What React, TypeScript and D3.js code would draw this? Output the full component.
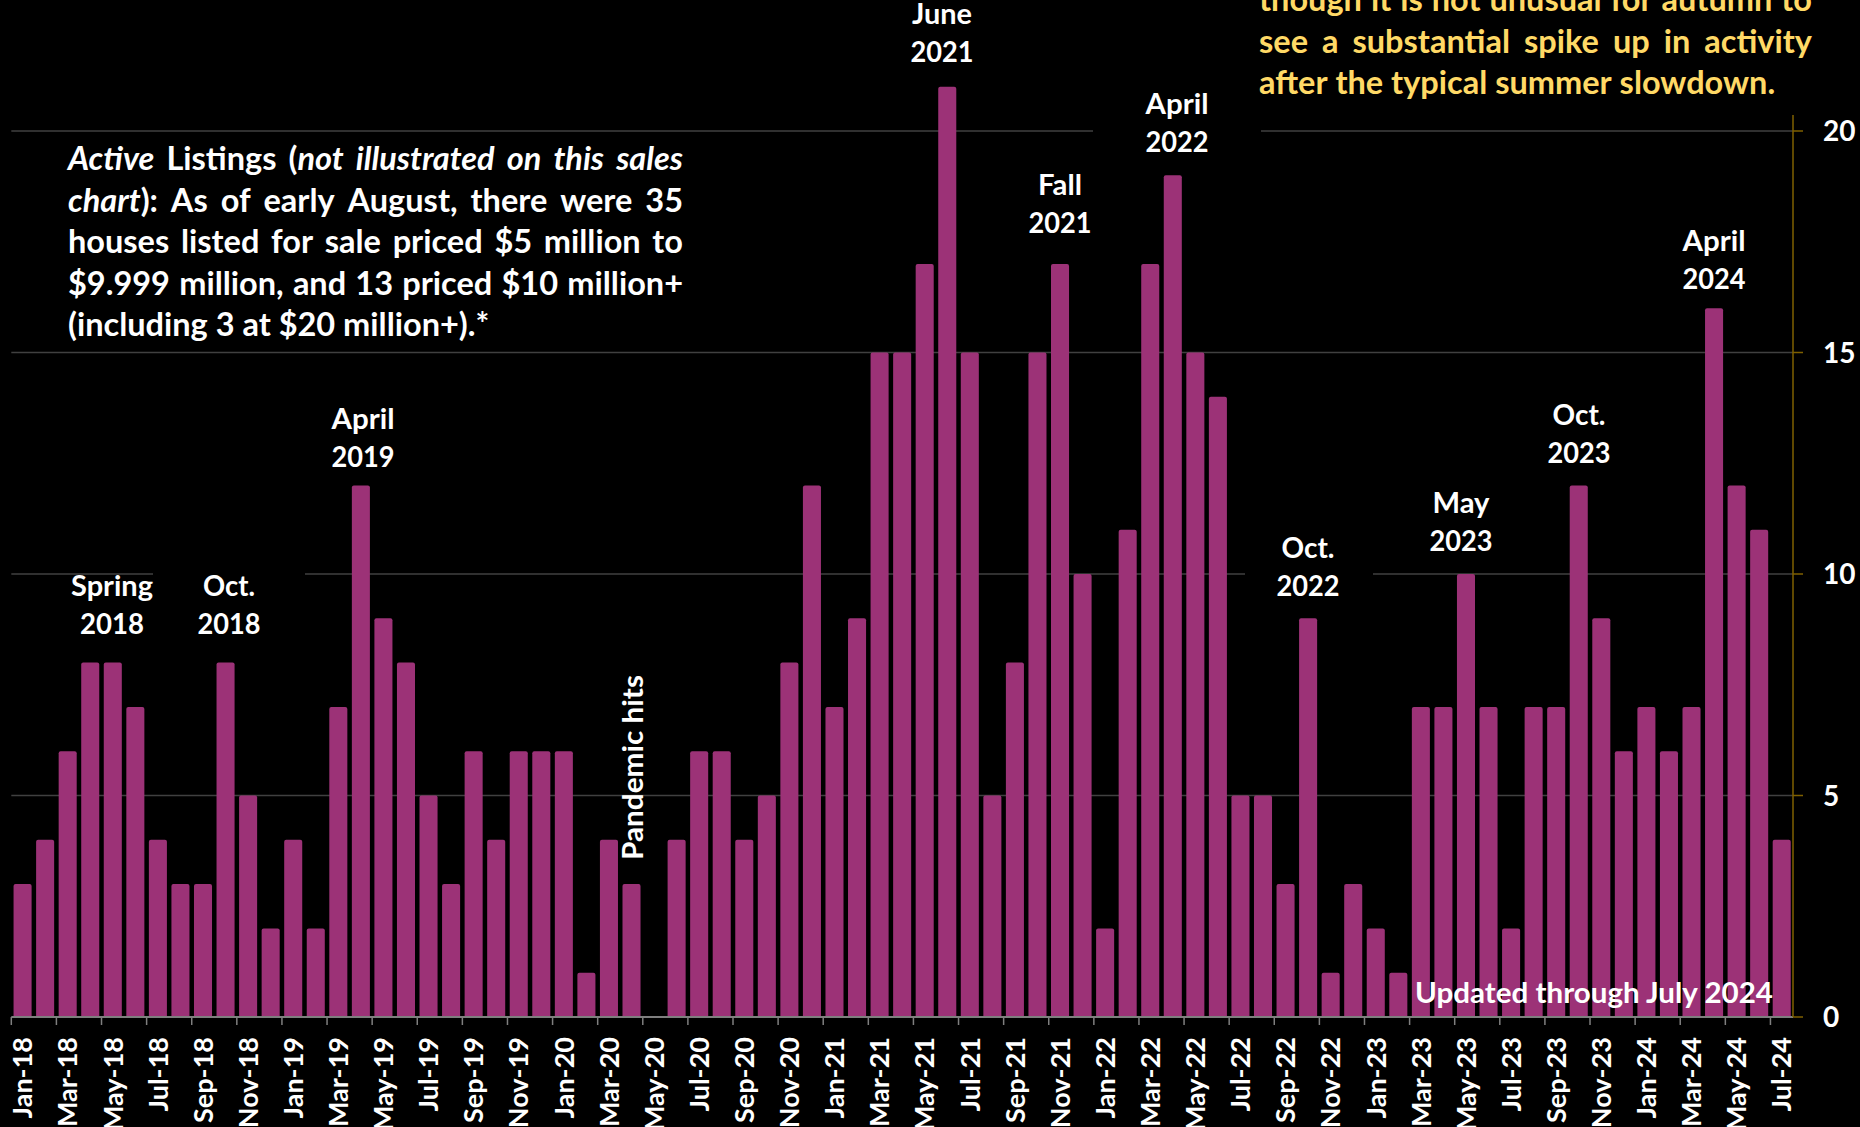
import React, { useEffect } from 'react';
import * as d3 from 'd3';

// Monthly sales count of $5M+ houses, Jan 2018 – Jul 2024
const months: string[] = [
  'Jan-18', 'Feb-18', 'Mar-18', 'Apr-18', 'May-18', 'Jun-18', 'Jul-18', 'Aug-18', 'Sep-18', 'Oct-18', 'Nov-18', 'Dec-18',
  'Jan-19', 'Feb-19', 'Mar-19', 'Apr-19', 'May-19', 'Jun-19', 'Jul-19', 'Aug-19', 'Sep-19', 'Oct-19', 'Nov-19', 'Dec-19',
  'Jan-20', 'Feb-20', 'Mar-20', 'Apr-20', 'May-20', 'Jun-20', 'Jul-20', 'Aug-20', 'Sep-20', 'Oct-20', 'Nov-20', 'Dec-20',
  'Jan-21', 'Feb-21', 'Mar-21', 'Apr-21', 'May-21', 'Jun-21', 'Jul-21', 'Aug-21', 'Sep-21', 'Oct-21', 'Nov-21', 'Dec-21',
  'Jan-22', 'Feb-22', 'Mar-22', 'Apr-22', 'May-22', 'Jun-22', 'Jul-22', 'Aug-22', 'Sep-22', 'Oct-22', 'Nov-22', 'Dec-22',
  'Jan-23', 'Feb-23', 'Mar-23', 'Apr-23', 'May-23', 'Jun-23', 'Jul-23', 'Aug-23', 'Sep-23', 'Oct-23', 'Nov-23', 'Dec-23',
  'Jan-24', 'Feb-24', 'Mar-24', 'Apr-24', 'May-24', 'Jun-24', 'Jul-24',
];

const sales: number[] = [
  3, 4, 6, 8, 8, 7, 4, 3, 3, 8, 5, 2,
  4, 2, 7, 12, 9, 8, 5, 3, 6, 4, 6, 6,
  6, 1, 4, 3, 0, 4, 6, 6, 4, 5, 8, 12,
  7, 9, 15, 15, 17, 21, 15, 5, 8, 15, 17, 10,
  2, 11, 17, 19, 15, 14, 5, 5, 3, 9, 1, 3,
  2, 1, 7, 7, 10, 7, 2, 7, 7, 12, 9, 6,
  7, 6, 7, 16, 12, 11, 4,
];

const yTicks: number[] = [0, 5, 10, 15, 20];

// Peak callouts (two lines each)
const callouts = [
  { lines: ['Spring', '2018'], cx: 112, y: 596, widths: [82, 64] },
  { lines: ['Oct.', '2018'], cx: 229, y: 596, widths: [52, 63], mask: [153, 305] },
  { lines: ['April', '2019'], cx: 363, y: 429, widths: [63, 63] },
  { lines: ['June', '2021'], cx: 942, y: 24, widths: [60, 63] },
  { lines: ['Fall', '2021'], cx: 1060, y: 195, widths: [44, 63] },
  { lines: ['April', '2022'], cx: 1177, y: 114, widths: [63, 63], mask: [1093, 1261] },
  { lines: ['Oct.', '2022'], cx: 1308, y: 558, widths: [53, 63], mask: [1245, 1373] },
  { lines: ['May', '2023'], cx: 1461, y: 513, widths: [57, 63] },
  { lines: ['Oct.', '2023'], cx: 1579, y: 425, widths: [53, 63] },
  { lines: ['April', '2024'], cx: 1714, y: 251, widths: [63, 63] },
];

// Underscores toggle italics
const listingLines: string[] = [
  '_Active_ Listings (_not illustrated on this sales_',
  '_chart_): As of early August, there were 35',
  'houses listed for sale priced $5 million to',
  '$9.999 million, and 13 priced $10 million+',
  '(including 3 at $20 million+).*',
];

const autumnLines: string[] = [
  'though it is not unusual for autumn to',
  'see a substantial spike up in activity',
  'after the typical summer slowdown.',
];

const W = 1860;
const H = 1127;
const FONT = "Lato, 'Noto Sans', sans-serif";
const BAR = '#9C3277';
const GOLD_TEXT = '#FFD966';
const AXIS_GOLD = '#7F6000';
const GRID = '#404040';

const plot = { left: 11.3, right: 1793, top: 131, bottom: 1017 };

let measureCtx: CanvasRenderingContext2D | null = null;
function measure(text: string, size: number, italic: boolean): number {
  if (!measureCtx) measureCtx = document.createElement('canvas').getContext('2d');
  if (!measureCtx) return text.length * size * 0.5;
  measureCtx.font = `${italic ? 'italic ' : ''}700 ${size}px Lato`;
  return measureCtx.measureText(text).width;
}

type Seg = { t: string; it: boolean };

function parseLine(line: string, startItalic: boolean): { words: Seg[][]; italic: boolean } {
  let it = startItalic;
  const words: Seg[][] = [];
  for (const raw of line.split(' ')) {
    const segs: Seg[] = [];
    let cur = '';
    for (const ch of raw) {
      if (ch === '_') {
        if (cur) segs.push({ t: cur, it });
        cur = '';
        it = !it;
      } else cur += ch;
    }
    if (cur) segs.push({ t: cur, it });
    words.push(segs);
  }
  return { words, italic: it };
}

function Paragraph({ lines, x, width, y0, lh, size, fill }: {
  lines: string[]; x: number; width: number; y0: number; lh: number; size: number; fill: string;
}) {
  let italic = false;
  const out: React.ReactNode[] = [];
  lines.forEach((line, li) => {
    const parsed = parseLine(line, italic);
    italic = parsed.italic;
    const widths = parsed.words.map((w) => w.reduce((s, g) => s + measure(g.t, size, g.it), 0));
    const total = widths.reduce((a, b) => a + b, 0);
    const last = li === lines.length - 1;
    const gap = last || parsed.words.length < 2
      ? measure(' ', size, false)
      : (width - total) / (parsed.words.length - 1);
    let cx = x;
    parsed.words.forEach((w, wi) => {
      out.push(
        <text key={`${li}-${wi}`} x={cx} y={y0 + li * lh} fill={fill} fontFamily={FONT} fontWeight={700} fontSize={size}>
          {w.map((g, gi) => (
            <tspan key={gi} fontStyle={g.it ? 'italic' : 'normal'}>{g.t}</tspan>
          ))}
        </text>,
      );
      cx += widths[wi] + gap;
    });
  });
  return <g>{out}</g>;
}

export default function App() {
  useEffect(() => {
    document.body.style.margin = '0';
    document.body.style.background = '#000';
  }, []);

  const x = d3.scaleBand<string>()
    .domain(months)
    .range([plot.left, plot.right])
    .paddingInner(0.2)
    .paddingOuter(0.1);
  const y = d3.scaleLinear().domain([0, 20]).range([plot.bottom, plot.top]);
  const step = x.step();
  const bw = x.bandwidth();
  const slotStart = (m: string) => (x(m) as number) - step * x.paddingOuter();

  return (
    <svg width={W} height={H} style={{ position: 'absolute', left: 0, top: 0, background: '#000' }}>
      <rect x={0} y={0} width={W} height={H} fill="#000" />

      {/* horizontal gridlines */}
      {yTicks.filter((t) => t > 0).map((t) => (
        <line key={t} x1={plot.left} x2={plot.right} y1={y(t)} y2={y(t)} stroke={GRID} strokeWidth={1.5} />
      ))}

      {/* opaque callout boxes hide gridlines behind them */}
      {callouts.filter((c) => c.mask).map((c, i) => (
        <rect key={i} x={c.mask![0]} width={c.mask![1] - c.mask![0]} y={c.y - 40} height={90} fill="#000" />
      ))}

      {/* bars */}
      {months.map((m, i) => {
        const v = sales[i];
        if (!v) return null;
        const top = y(v);
        const x0 = x(m) as number;
        return (
          <path
            key={m}
            fill={BAR}
            d={`M${x0},${plot.bottom} V${top + 2} Q${x0},${top} ${x0 + 2},${top} H${x0 + bw - 2} Q${x0 + bw},${top} ${x0 + bw},${top + 2} V${plot.bottom} Z`}
          />
        );
      })}

      {/* category axis */}
      <line x1={plot.left} x2={plot.right} y1={plot.bottom} y2={plot.bottom} stroke="#7F7F7F" strokeWidth={2} />
      {months.map((m, i) => (i % 2 === 0 ? (
        <line key={`t${m}`} x1={slotStart(m)} x2={slotStart(m)} y1={plot.bottom} y2={plot.bottom + 8} stroke="#7F7F7F" strokeWidth={1.5} />
      ) : null))}
      {months.map((m, i) => (i % 2 === 0 ? (
        <text
          key={`l${m}`}
          transform={`translate(${(x(m) as number) + bw / 2},${plot.bottom + 20}) rotate(-90)`}
          textAnchor="end"
          dy="0.36em"
          fill="#fff"
          fontFamily={FONT}
          fontWeight={700}
          fontSize={27}
        >
          {m}
        </text>
      ) : null))}

      {/* value axis on the right */}
      <line x1={plot.right} x2={plot.right} y1={115} y2={plot.bottom} stroke={AXIS_GOLD} strokeWidth={1.5} />
      {yTicks.map((t) => (
        <g key={`y${t}`}>
          <line x1={plot.right} x2={plot.right + 10} y1={y(t)} y2={y(t)} stroke={AXIS_GOLD} strokeWidth={1.5} />
          <text x={1823} y={y(t)} dy="0.36em" fill="#fff" fontFamily={FONT} fontWeight={700} fontSize={28}>{t}</text>
        </g>
      ))}

      {/* callout labels */}
      {callouts.map((c, i) => (
        <g key={`c${i}`}>
          {c.lines.map((ln, li) => (
            <text
              key={li}
              x={c.cx}
              y={c.y + li * 38}
              textAnchor="middle"
              fill="#fff"
              fontFamily={FONT}
              fontWeight={700}
              fontSize={28}
              textLength={c.widths[li]}
              lengthAdjust="spacingAndGlyphs"
            >
              {ln}
            </text>
          ))}
        </g>
      ))}

      {/* pandemic marker */}
      <text
        transform="translate(643,860) rotate(-90)"
        fill="#fff"
        fontFamily={FONT}
        fontWeight={700}
        fontSize={28}
        textLength={185}
        lengthAdjust="spacingAndGlyphs"
      >
        Pandemic hits
      </text>

      {/* listings note */}
      <Paragraph lines={listingLines} x={68} width={615} y0={170} lh={41.5} size={32.5} fill="#fff" />

      {/* seasonal note */}
      <Paragraph lines={autumnLines} x={1259} width={553} y0={11} lh={41.5} size={32.5} fill={GOLD_TEXT} />

      <text x={1415} y={1003} fill="#fff" fontFamily={FONT} fontWeight={700} fontSize={28} textLength={358} lengthAdjust="spacingAndGlyphs">
        Updated through July 2024
      </text>
    </svg>
  );
}
